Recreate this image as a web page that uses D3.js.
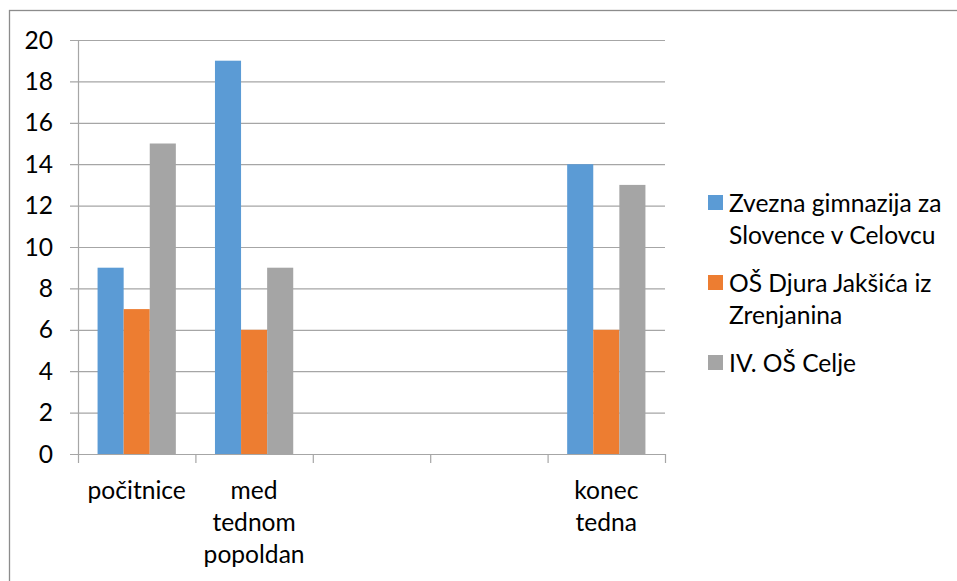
<!DOCTYPE html>
<html>
<head>
<meta charset="utf-8">
<script src="https://cdn.jsdelivr.net/npm/d3@7"></script>
<style>
  body { margin: 0; background: #fff; }
  svg text { font-family: Lato, "Liberation Sans", sans-serif; fill: #000; }
</style>
</head>
<body>
<svg id="canvas" width="957" height="581"></svg>
<script>
// chart data
var categories = ["počitnice", "med tednom popoldan", "", "", "konec tedna"];
var seriesNames = ["Zvezna gimnazija za\nSlovence v Celovcu", "OŠ Djura Jakšića iz\nZrenjanina", "IV. OŠ Celje"];
var zvezna = [9, 19, null, null, 14];
var djura = [7, 6, null, null, 6];
var celje = [15, 9, null, null, 13];
var yTicks = [0, 2, 4, 6, 8, 10, 12, 14, 16, 18, 20];

var colors = ["#5b9bd5", "#ed7d31", "#a5a5a5"];
var allSeries = [zvezna, djura, celje];

var canvas = d3.select("#canvas");
var fontSize = 24.6;

// outer chart border (only top + left visible)
canvas.append("rect")
    .attr("x", 9.5).attr("y", 10.5)
    .attr("width", 1000).attr("height", 1000)
    .style("fill", "none").style("stroke", "#8c8c8c").style("stroke-width", 1.3);

var plot_left = 78, plot_right = 665, plot_top = 40, plot_bottom = 454;

var x0 = d3.scaleBand()
    .domain(d3.range(categories.length))
    .range([plot_left, plot_right])
    .padding(0);

var x1 = d3.scaleBand()
    .domain(d3.range(allSeries.length))
    .range([0, x0.bandwidth()])
    .paddingInner(0)
    .paddingOuter(0.75);

var y = d3.scaleLinear().domain([0, 20]).range([plot_bottom, plot_top]);

// gridlines
canvas.append("g").selectAll("line")
    .data(yTicks)
    .enter().append("line")
    .attr("x1", plot_left - 8).attr("x2", plot_right)
    .attr("y1", function(d){ return y(d) + 0.5 })
    .attr("y2", function(d){ return y(d) + 0.5 })
    .style("stroke", "#a6a6a6").style("stroke-width", 1.2);

// y labels
canvas.append("g").selectAll("text")
    .data(yTicks)
    .enter().append("text")
    .attr("x", 53)
    .attr("y", function(d){ return y(d) })
    .attr("dy", "0.35em")
    .attr("text-anchor", "end")
    .style("font-size", fontSize + "px")
    .text(function(d){ return d });

// bars
for (var s = 0; s < allSeries.length; s++) {
    canvas.append("g").selectAll("rect")
        .data(allSeries[s].map(function(v, i){ return {i: i, v: v} }).filter(function(d){ return d.v != null }))
        .enter().append("rect")
        .attr("x", function(d){ return x0(d.i) + x1(s) })
        .attr("y", function(d){ return y(d.v) })
        .attr("width", x1.bandwidth())
        .attr("height", function(d){ return plot_bottom - y(d.v) })
        .style("fill", colors[s]);
}

// y axis line
canvas.append("line")
    .attr("x1", plot_left + 0.5).attr("x2", plot_left + 0.5)
    .attr("y1", plot_top).attr("y2", plot_bottom)
    .style("stroke", "#a6a6a6").style("stroke-width", 1.2);

// x axis line and ticks
canvas.append("line")
    .attr("x1", plot_left).attr("x2", plot_right)
    .attr("y1", plot_bottom + 0.5).attr("y2", plot_bottom + 0.5)
    .style("stroke", "#a6a6a6").style("stroke-width", 1.2);

var boundaries = d3.range(categories.length + 1).map(function(i){
    return i < categories.length ? x0(i) : plot_right;
});
canvas.append("g").selectAll("line")
    .data(boundaries)
    .enter().append("line")
    .attr("x1", function(d){ return d + 0.5 }).attr("x2", function(d){ return d + 0.5 })
    .attr("y1", plot_bottom).attr("y2", plot_bottom + 9)
    .style("stroke", "#a6a6a6").style("stroke-width", 1.2);

// x labels, one word per line
var lineH = 32;
categories.forEach(function(c, i){
    var words = c.split(" ").filter(function(w){ return w != "" });
    var t = canvas.append("text")
        .attr("text-anchor", "middle")
        .style("font-size", fontSize + "px");
    words.forEach(function(w, k){
        t.append("tspan")
            .attr("x", x0(i) + x0.bandwidth() / 2)
            .attr("y", 490 + k * lineH)
            .attr("dy", "0.35em")
            .text(w);
    });
});

// legend
var leg_y = 203;
seriesNames.forEach(function(name, s){
    var lines = name.split("\n");
    canvas.append("rect")
        .attr("x", 708).attr("y", leg_y - 8)
        .attr("width", 15).attr("height", 15)
        .style("fill", colors[s]);
    var t = canvas.append("text").style("font-size", fontSize + "px");
    lines.forEach(function(l, k){
        t.append("tspan")
            .attr("x", 729)
            .attr("y", leg_y + k * lineH)
            .attr("dy", "0.35em")
            .text(l);
    });
    leg_y += lines.length * lineH + 16;
});
</script>
</body>
</html>
